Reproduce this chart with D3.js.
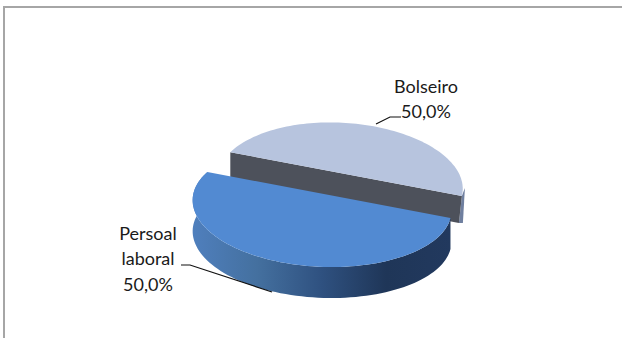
<!DOCTYPE html>
<html><head><meta charset="utf-8">
<script src="https://cdn.jsdelivr.net/npm/d3@7"></script>
<style>html,body{margin:0;padding:0;background:#fff}svg{display:block}text{font-family:Lato,sans-serif;font-size:18px;fill:#1a1a1a}</style>
</head><body><svg id="c" width="622" height="338"></svg>
<script>
const categories = ["Bolseiro", "Persoal laboral"];
const values = [50.0, 50.0];
const labelLines = [["Bolseiro", "50,0%"], ["Persoal", "laboral", "50,0%"]];
const topColors = ["#b7c4de", "#528ad2"];
const startAngle = 1.266; // pie rotation, radians from the viewer's side

const svg = d3.select("#c");
const defs = svg.append("defs");
const g = defs.append("linearGradient").attr("id","side").attr("x1",0).attr("x2",1).attr("y1",0).attr("y2",0);
[[0,"#4f7fbd"],[0.25,"#44709f"],[0.5,"#2f5180"],[0.75,"#1f3658"],[1,"#22395e"]].forEach(s=>g.append("stop").attr("offset",s[0]).attr("stop-color",s[1]));

svg.append("rect").attr("x",4).attr("y",7).attr("width",640).attr("height",400).attr("fill","#fff").attr("stroke","#a6a6a6").attr("stroke-width",2);

const pie = d3.pie().sort(null).value(d=>d).startAngle(startAngle).endAngle(startAngle+2*Math.PI);
const arcs = pie(values);
const shapes = [
  {cx:339.5, cy:173, a:121, b:60, p:-0.19, s:4.0, depth:27, inset:3},
  {cx:322, cy:194, a:127, b:59, p:-0.19, s:5.5, depth:31, inset:0}
];
function proj(sh, t, dz=0){
  const u=Math.sin(t), v=Math.cos(t), w=1+sh.p*v;
  return [sh.cx+sh.a*u/w, sh.cy+sh.b*v/w+sh.s*u+dz];
}
const line = d3.line();
function sample(sh,t0,t1,dz=0,n=90){ return d3.range(n+1).map(i=>proj(sh,t0+(t1-t0)*i/n,dz)); }

arcs.forEach((d,i)=>{
  const sh=shapes[i];
  const rim=sample(sh,d.startAngle,d.endAngle);
  if(i===0){
    const a=rim[0], b=rim[rim.length-1];
    svg.append("path").attr("d",line([a,[a[0]+3,a[1]-8],[a[0]+1,a[1]+sh.depth],[a[0]-sh.inset,a[1]+sh.depth]])+"Z").attr("fill","#6f7f9f");
    svg.append("path").attr("d",line([a,b,[b[0],b[1]+sh.depth],[a[0]-sh.inset,a[1]+sh.depth]])+"Z").attr("fill","#4d515b");
    svg.append("path").attr("d",line(rim)+"Z").attr("fill",topColors[i]);
  } else {
    const pts=sample(sh,d.startAngle,d.endAngle);
    const bottom=sample(sh,d.startAngle,d.endAngle,sh.depth).reverse();
    svg.append("path").attr("d",line(pts.concat(bottom))+"Z").attr("fill","url(#side)");
    svg.append("path").attr("d",line(rim)+"Z").attr("fill",topColors[i]);
  }
});

const leaders=[[[376,124],[390,117],[401,117]],[[181,265],[190,265],[272,292]]];
leaders.forEach(l=>svg.append("path").attr("d",line(l)).attr("fill","none").attr("stroke","#111").attr("stroke-width",1.2));

const labelPos=[[426,[93,118]],[148,[240,265,291]]];
labelLines.forEach((ls,i)=>ls.forEach((t,j)=>svg.append("text").attr("x",labelPos[i][0]).attr("y",labelPos[i][1][j]).attr("text-anchor","middle").text(t)));
</script></body></html>
